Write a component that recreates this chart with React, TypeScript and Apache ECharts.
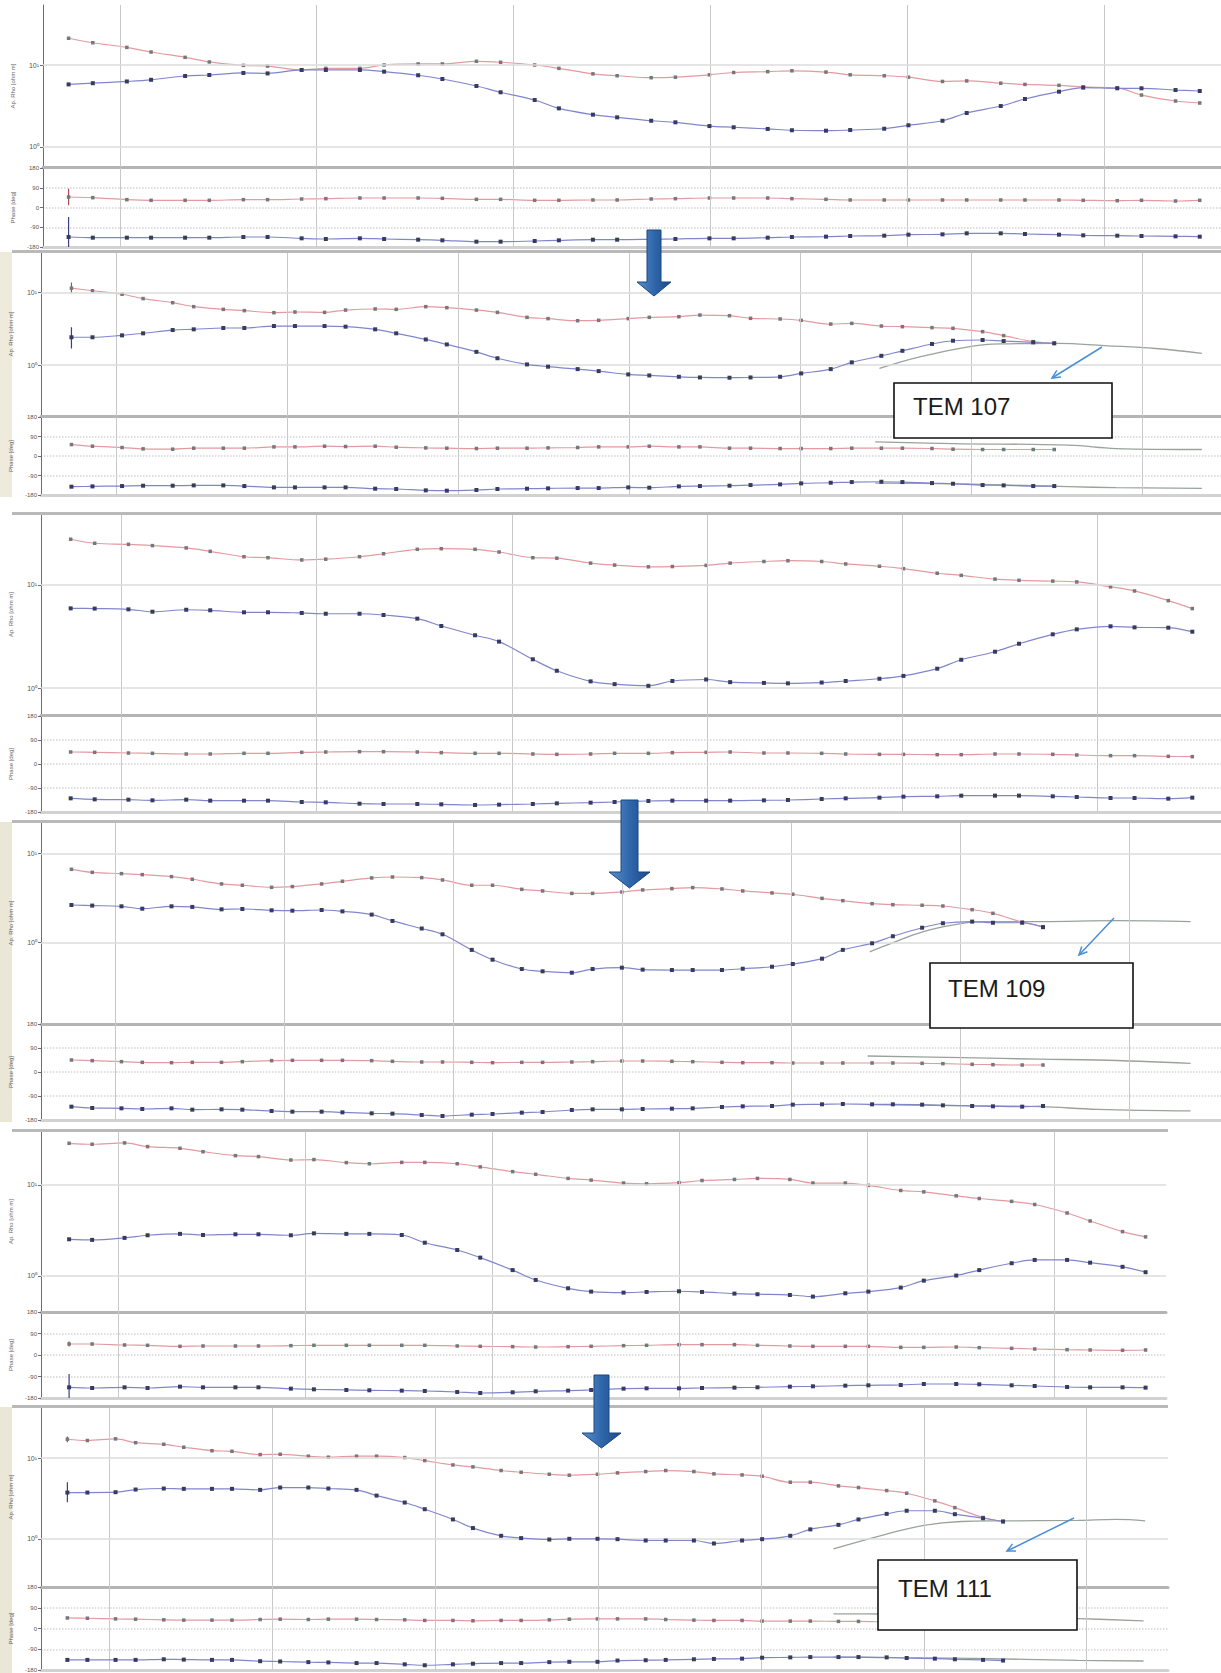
import React, { useEffect, useRef } from "react";
import * as echarts from "echarts";

// log10 of period for the 40 sounding frequencies (shared by all stations)
const logPeriod = [
  -3.26, -3.137, -2.964, -2.841, -2.668, -2.545, -2.372, -2.249, -2.076, -1.953,
  -1.78, -1.657, -1.484, -1.361, -1.188, -1.065, -0.892, -0.769, -0.596, -0.473,
  -0.3, -0.177, -0.004, 0.119, 0.292, 0.415, 0.588, 0.711, 0.884, 1.007,
  1.18, 1.303, 1.476, 1.599, 1.772, 1.895, 2.068, 2.191, 2.364, 2.487,
];

const rhoTicks = [1, 10];
const rhoTickLabels = ["10⁰", "10¹"];
const phaseTickLabels = ["-180", "-90", "0", "90", "180"];

// ---------- Station 107 : before ----------
const rhoXY107Before = [21.2, 18.7, 16.4, 14.4, 12.4, 10.9, 9.9, 9.7, 8.7, 9.1, 9.1, 10.0, 10.3, 10.3, 11.1, 10.8, 10.0, 9.1, 7.8, 7.4, 7.0, 7.1, 7.6, 8.1, 8.3, 8.5, 8.2, 7.6, 7.4, 7.1, 6.3, 6.4, 6.0, 5.8, 5.65, 5.4, 5.25, 4.3, 3.64, 3.44];
const rhoYX107Before = [5.8, 6.0, 6.3, 6.6, 7.35, 7.55, 8.0, 7.9, 8.7, 8.7, 8.7, 8.3, 7.5, 6.75, 5.55, 4.65, 3.74, 2.96, 2.48, 2.3, 2.09, 2.0, 1.8, 1.74, 1.66, 1.6, 1.58, 1.61, 1.67, 1.84, 2.09, 2.6, 3.16, 3.85, 4.73, 5.3, 5.2, 5.2, 4.95, 4.82];
const phaseXY107Before = [47.8, 44.8, 35.7, 32.7, 32.7, 32.7, 35.7, 35.7, 38.7, 40.2, 43.3, 43.3, 43.3, 41.8, 37.2, 37.2, 32.7, 32.7, 34.2, 34.2, 38.7, 40.2, 43.3, 43.3, 43.3, 40.2, 37.2, 34.2, 34.2, 34.2, 34.2, 34.2, 34.2, 34.2, 34.2, 32.7, 31.1, 32.7, 29.6, 32.7];
const phaseYX107Before = [-134.4, -137.5, -137.5, -137.5, -137.5, -137.5, -134.4, -134.4, -140.5, -143.5, -140.5, -143.5, -146.6, -149.6, -155.7, -155.7, -152.7, -149.6, -146.6, -146.6, -145.1, -143.5, -140.5, -140.5, -137.5, -134.4, -132.9, -129.9, -128.4, -123.8, -122.3, -117.7, -117.7, -120.8, -123.8, -126.8, -128.4, -129.9, -131.4, -132.9];

// ---------- Station 107 : after (TEM corrected) ----------
const rhoXY107After = [11.4, 10.5, 9.4, 8.2, 7.2, 6.35, 5.83, 5.6, 5.25, 5.36, 5.3, 5.7, 5.9, 5.83, 6.35, 6.15, 5.7, 5.3, 4.53, 4.35, 4.07, 4.12, 4.35, 4.53, 4.62, 4.87, 4.77, 4.39, 4.3, 4.12, 3.66, 3.74, 3.44, 3.37, 3.27, 3.2, 2.88, 2.54, 2.1, 1.99];
const rhoYX107After = [2.41, 2.41, 2.56, 2.73, 3.03, 3.1, 3.23, 3.23, 3.44, 3.44, 3.44, 3.37, 3.1, 2.73, 2.25, 1.92, 1.52, 1.24, 1.02, 0.95, 0.88, 0.826, 0.744, 0.72, 0.69, 0.676, 0.67, 0.676, 0.69, 0.768, 0.88, 1.09, 1.34, 1.57, 1.95, 2.16, 2.21, 2.14, 2.05, 1.99];
const phaseXY107After = [52.8, 45.2, 39.1, 33, 31.4, 36, 36, 36, 42.1, 42.1, 45.2, 43.7, 45.2, 40.6, 37.5, 36, 34.5, 36, 36, 37.5, 39.1, 42.1, 42.1, 45.2, 42.1, 42.1, 36, 36, 34.5, 34.5, 34.5, 36, 36, 36, 34.5, 31.4, 29.9, 29.9, 29.9, 29.9];
const phaseYX107After = [-141.7, -140.2, -138.7, -137.1, -137.1, -135.6, -135.6, -138.7, -144.8, -144.8, -144.8, -144.8, -150.9, -152.4, -158.6, -160.1, -157.0, -152.4, -150.9, -149.4, -147.9, -147.9, -144.8, -146.3, -140.2, -138.7, -137.1, -134.1, -131, -126.4, -123.4, -120.3, -118.8, -120.3, -124.9, -128, -134.1, -135.6, -138.7, -138.7];
const tem107Period = [1.465, 1.7, 2.01, 2.17, 2.51, 2.78, 3.08, 3.35];
const tem107Rho = [0.9, 1.3, 1.82, 1.95, 1.99, 1.85, 1.69, 1.45];
const tem107PhasePeriod = [1.44, 1.894, 2.575, 2.85, 3.35];
const tem107PhaseXY = [65, 57.4, 49.8, 34.5, 30];
const tem107PhaseYX = [-125, -128, -141.7, -146, -149.4];

// ---------- Station 109 : before ----------
const rhoXY109Before = [27.8, 25.4, 24.8, 24.1, 22.9, 21.2, 18.8, 18.4, 17.5, 17.8, 18.8, 20.1, 22.2, 22.5, 22.2, 20.9, 18.4, 18.2, 16.3, 15.6, 15.0, 15.1, 15.5, 16.3, 16.9, 17.2, 16.9, 16.0, 15.2, 14.4, 13.0, 12.4, 11.4, 11.1, 10.9, 10.7, 9.6, 8.75, 7.05, 5.9];
const rhoYX109Before = [5.93, 5.9, 5.8, 5.5, 5.75, 5.68, 5.43, 5.43, 5.35, 5.26, 5.26, 5.11, 4.71, 4.0, 3.25, 2.82, 1.9, 1.47, 1.16, 1.09, 1.05, 1.17, 1.21, 1.14, 1.12, 1.11, 1.13, 1.17, 1.23, 1.31, 1.54, 1.88, 2.25, 2.69, 3.32, 3.71, 3.97, 3.88, 3.85, 3.52];
const phaseXY109Before = [45, 43.75, 41.25, 40, 37.5, 37.5, 40, 40, 43.75, 45, 46.25, 46.25, 45, 42.5, 40, 40, 37.5, 36.25, 37.5, 40, 40, 42.5, 43.75, 45, 41.25, 41.25, 40, 37.5, 36.25, 36.25, 35, 35, 37.5, 37.5, 36.25, 33.75, 31.25, 31.25, 28.75, 27.5];
const phaseYX109Before = [-128.75, -132.5, -133.75, -136.25, -133.75, -137.5, -137.5, -137.5, -142.5, -143.75, -148.75, -150, -150, -151.25, -153.75, -152.5, -150, -147.5, -145, -142.5, -138.75, -137.5, -137.5, -137.5, -136.25, -135, -131.25, -128.75, -126.25, -122.5, -121.25, -118.75, -118.75, -118.75, -121.25, -123.75, -127.5, -127.5, -130, -126.25];

// ---------- Station 109 : after ----------
const rhoXY109After = [6.62, 6.12, 5.92, 5.77, 5.48, 5.12, 4.54, 4.39, 4.16, 4.24, 4.54, 4.86, 5.3, 5.43, 5.34, 5.03, 4.39, 4.39, 3.95, 3.79, 3.56, 3.56, 3.69, 3.89, 4.02, 4.13, 3.99, 3.79, 3.6, 3.48, 3.13, 2.95, 2.73, 2.66, 2.62, 2.57, 2.34, 2.13, 1.7, 1.51];
const rhoYX109After = [2.64, 2.6, 2.55, 2.4, 2.55, 2.51, 2.36, 2.38, 2.3, 2.28, 2.32, 2.24, 2.06, 1.75, 1.44, 1.24, 0.83, 0.645, 0.507, 0.478, 0.461, 0.507, 0.525, 0.499, 0.494, 0.494, 0.494, 0.511, 0.538, 0.577, 0.662, 0.83, 0.984, 1.18, 1.47, 1.65, 1.72, 1.67, 1.67, 1.49];
const phaseXY109After = [45, 42.5, 38.75, 36.25, 35, 36.25, 36.25, 38.75, 42.5, 43.75, 43.75, 43.75, 42.5, 40, 37.5, 37.5, 36.25, 35, 36.25, 36.25, 37.5, 38.75, 41.25, 41.25, 40, 38.75, 36.25, 35, 35, 33.75, 33.75, 33.75, 33.75, 33.75, 32.5, 31.25, 28.75, 27.5, 26.25, 26.25];
const phaseYX109After = [-130, -135, -136.25, -138.75, -136.25, -141.25, -140, -141.25, -146.25, -148.75, -148.75, -151.25, -155, -156.25, -161.25, -165, -160, -157.5, -152.5, -150, -142.5, -140, -140, -138.75, -137.5, -136.25, -131.25, -128.75, -127.5, -122.5, -121.25, -120, -121.25, -121.25, -122.5, -125, -127.5, -128.75, -130, -127.5];
const tem109Period = [1.462, 1.6, 1.78, 1.96, 2.12, 2.47, 2.92, 3.36];
const tem109Rho = [0.79, 1.0, 1.33, 1.58, 1.72, 1.72, 1.76, 1.72];
const tem109PhasePeriod = [1.45, 2.01, 2.47, 2.81, 3.36];
const tem109PhaseXY = [60, 53.75, 48, 45, 32.5];
const tem109PhaseYX = [-122, -126, -130, -140, -146];

// ---------- Station 111 : before ----------
const rhoXY111Before = [28.7, 28.0, 29.0, 26.4, 25.3, 23.2, 21.0, 20.5, 18.8, 19.0, 17.6, 17.1, 17.7, 17.7, 17.1, 15.8, 14.0, 13.1, 11.8, 11.3, 10.5, 10.3, 10.6, 11.2, 11.5, 11.8, 11.5, 10.5, 10.5, 9.9, 8.7, 8.4, 7.6, 7.1, 6.6, 6.1, 4.92, 4.02, 3.07, 2.69];
const rhoYX111Before = [2.53, 2.49, 2.62, 2.8, 2.9, 2.82, 2.87, 2.87, 2.8, 2.94, 2.9, 2.9, 2.82, 2.32, 1.93, 1.59, 1.16, 0.904, 0.732, 0.673, 0.656, 0.667, 0.679, 0.667, 0.64, 0.63, 0.618, 0.593, 0.645, 0.673, 0.745, 0.889, 1.01, 1.16, 1.38, 1.5, 1.5, 1.4, 1.26, 1.1];
const phaseXY111Before = [46, 46, 41.9, 40.5, 36.3, 37.7, 37.7, 37.7, 39.1, 40.5, 40.5, 40.5, 40.5, 40.5, 37.7, 36.3, 34.9, 33.5, 34.9, 36.3, 39.1, 40.5, 43.3, 43.3, 43.3, 40.5, 37.7, 36.3, 36.3, 36.3, 32.1, 32.1, 33.5, 30.7, 27.9, 25.2, 22.4, 21, 19.6, 21];
const phaseYX111Before = [-135.3, -138.1, -135.3, -138.1, -132.5, -135.3, -135.3, -135.3, -140.9, -143.7, -146.4, -147.8, -149.2, -150.6, -154.8, -159, -156.2, -152, -149.2, -146.4, -140.9, -139.5, -139.5, -138.1, -136.7, -135.3, -132.5, -131.1, -128.3, -126.9, -125.5, -121.3, -121.3, -122.7, -126.9, -129.7, -133.9, -135.3, -135.3, -136.7];

// ---------- Station 111 : after ----------
const rhoXY111After = [17.2, 16.6, 17.4, 15.6, 14.9, 13.7, 12.4, 12.2, 11.1, 11.2, 10.6, 10.3, 10.6, 10.6, 10.2, 9.36, 8.26, 7.81, 7.04, 6.7, 6.33, 6.16, 6.33, 6.58, 6.84, 7.04, 6.84, 6.4, 6.21, 5.98, 5.04, 5.04, 4.54, 4.33, 3.97, 3.68, 2.96, 2.44, 1.84, 1.64];
const rhoYX111After = [3.75, 3.75, 3.79, 4.09, 4.21, 4.17, 4.17, 4.17, 4.05, 4.33, 4.33, 4.21, 4.05, 3.44, 2.82, 2.33, 1.74, 1.36, 1.09, 1.02, 0.98, 1.0, 1.0, 0.99, 0.953, 0.953, 0.953, 0.875, 0.953, 0.99, 1.09, 1.31, 1.49, 1.74, 2.04, 2.23, 2.23, 2.02, 1.8, 1.64];
const phaseXY111After = [45.8, 44.5, 41.7, 40.4, 37.6, 36.3, 36.3, 36.3, 39, 40.4, 39, 40.4, 40.4, 39, 37.6, 34.9, 34.9, 33.5, 34.9, 34.9, 37.6, 40.4, 41.7, 41.7, 41.7, 39, 36.3, 34.9, 34.9, 32.1, 32.1, 32.1, 30.8, 30.8, 28, 26.7, 25.3, 25.3, 23.9, 22.6];
const phaseYX111After = [-136.2, -136.2, -136.2, -136.2, -133.5, -134.9, -136.2, -136.2, -141.8, -143.1, -145.8, -147.2, -149.9, -149.9, -155.4, -159.5, -155.4, -152.7, -149.9, -149.9, -145.8, -144.5, -144.5, -139, -137.6, -136.2, -133.5, -132.1, -130.8, -126.7, -125.3, -123.9, -123.9, -123.9, -125.3, -128, -130.8, -133.5, -136.2, -139];
const tem111Period = [1.445, 1.755, 1.993, 2.23, 2.47, 2.945, 3.18, 3.36];
const tem111Rho = [0.75, 1.12, 1.46, 1.64, 1.67, 1.69, 1.74, 1.67];
const tem111PhasePeriod = [1.445, 1.73, 2.3, 2.945, 3.35];
const tem111PhaseXY = [63.6, 63, 55, 43, 33.5];
const tem111PhaseYX = [-124, -126, -130, -138, -141];

// error bars on the first sounding point [low, high]
const errRedPhase107Before = [10, 86];
const errBluePhase107Before = [-180, -43];
const errRedRho107After = [9.7, 13.6];
const errBlueRho107After = [1.69, 3.3];
const errRedPhase111Before = [36, 57];
const errBluePhase111Before = [-180, -80];
const errRedRho111After = [15.8, 18.6];
const errBlueRho111After = [2.85, 5.04];

const RED_LINE = "#e39aa0";
const BLUE_LINE = "#8186cc";
const RED_MARK = "#77777c";
const BLUE_MARK = "#373c5e";
const GRAY_TEM = "#9aa39b";

type Panel = {
  kind: "rho" | "phase";
  left: number; top: number; width: number; height: number;
  xMin: number; xMax: number; yMin: number; yMax: number;
  vLines: number[];
  red: number[]; blue: number[];
  tem?: { x: number[]; y: number[] }[];
  errRed?: number[]; errBlue?: number[];
};

const decades6 = [-3, -2, -1, 0, 1, 2];
const decades7 = [-3, -2, -1, 0, 1, 2, 3];

const panels: Panel[] = [
  { kind: "rho", left: 43, top: 5, width: 1178, height: 162, xMin: -3.39, xMax: 2.595, yMin: -0.244, yMax: 1.732, vLines: decades6, red: rhoXY107Before, blue: rhoYX107Before },
  { kind: "phase", left: 43, top: 168, width: 1178, height: 79, xMin: -3.39, xMax: 2.595, yMin: -180, yMax: 180, vLines: decades6, red: phaseXY107Before, blue: phaseYX107Before, errRed: errRedPhase107Before, errBlue: errBluePhase107Before },
  { kind: "rho", left: 39, top: 252, width: 1182, height: 164, xMin: -3.438, xMax: 3.462, yMin: -0.7, yMax: 1.554, vLines: decades7, red: rhoXY107After, blue: rhoYX107After, tem: [{ x: tem107Period, y: tem107Rho }], errRed: errRedRho107After, errBlue: errBlueRho107After },
  { kind: "phase", left: 39, top: 417, width: 1182, height: 78, xMin: -3.438, xMax: 3.462, yMin: -180, yMax: 180, vLines: decades7, red: phaseXY107After, blue: phaseYX107After, tem: [{ x: tem107PhasePeriod, y: tem107PhaseXY }, { x: tem107PhasePeriod, y: tem107PhaseYX }] },
  { kind: "rho", left: 33, top: 514, width: 1188, height: 201, xMin: -3.412, xMax: 2.634, yMin: -0.262, yMax: 1.689, vLines: decades6, red: rhoXY109Before, blue: rhoYX109Before },
  { kind: "phase", left: 33, top: 716, width: 1188, height: 96, xMin: -3.412, xMax: 2.634, yMin: -180, yMax: 180, vLines: decades6, red: phaseXY109Before, blue: phaseYX109Before },
  { kind: "rho", left: 31, top: 822, width: 1190, height: 202, xMin: -3.44, xMax: 3.54, yMin: -0.91, yMax: 1.35, vLines: decades7, red: rhoXY109After, blue: rhoYX109After, tem: [{ x: tem109Period, y: tem109Rho }] },
  { kind: "phase", left: 31, top: 1024, width: 1190, height: 96, xMin: -3.44, xMax: 3.54, yMin: -180, yMax: 180, vLines: decades7, red: phaseXY109After, blue: phaseYX109After, tem: [{ x: tem109PhasePeriod, y: tem109PhaseXY }, { x: tem109PhasePeriod, y: tem109PhaseYX }] },
  { kind: "rho", left: 37, top: 1131, width: 1129, height: 181, xMin: -3.41, xMax: 2.596, yMin: -0.396, yMax: 1.593, vLines: decades6, red: rhoXY111Before, blue: rhoYX111Before },
  { kind: "phase", left: 37, top: 1312, width: 1129, height: 86, xMin: -3.41, xMax: 2.596, yMin: -180, yMax: 180, vLines: decades6, red: phaseXY111Before, blue: phaseYX111Before, errRed: errRedPhase111Before, errBlue: errBluePhase111Before },
  { kind: "rho", left: 36, top: 1407, width: 1132, height: 180, xMin: -3.422, xMax: 3.5, yMin: -0.598, yMax: 1.636, vLines: decades7, red: rhoXY111After, blue: rhoYX111After, tem: [{ x: tem111Period, y: tem111Rho }], errRed: errRedRho111After, errBlue: errBlueRho111After },
  { kind: "phase", left: 36, top: 1587, width: 1132, height: 88, xMin: -3.422, xMax: 3.5, yMin: -180, yMax: 180, vLines: decades7, red: phaseXY111After, blue: phaseYX111After, tem: [{ x: tem111PhasePeriod, y: tem111PhaseXY }, { x: tem111PhasePeriod, y: tem111PhaseYX }] },
];

const near = (a: number, b: number) => Math.abs(a - b) < 1e-6 * Math.max(1, Math.abs(b));

function arrowHead(x1: number, y1: number, x2: number, y2: number, len = 9, ang = 0.45) {
  const a = Math.atan2(y2 - y1, x2 - x1);
  return [
    [x2 - len * Math.cos(a - ang), y2 - len * Math.sin(a - ang)],
    [x2, y2],
    [x2 - len * Math.cos(a + ang), y2 - len * Math.sin(a + ang)],
  ];
}

function bigArrow(cx: number, top: number, shaftW: number, headY: number, headW: number, tip: number) {
  const s = shaftW / 2, h = headW / 2;
  return {
    type: "polygon",
    z: 100,
    shape: { points: [[cx - s, top], [cx + s, top], [cx + s, headY], [cx + h, headY], [cx, tip], [cx - h, headY], [cx - s, headY]] },
    style: {
      fill: new echarts.graphic.LinearGradient(0, 0, 1, 0, [
        { offset: 0, color: "#5a8fcf" },
        { offset: 0.5, color: "#2f67ab" },
        { offset: 1, color: "#1c4a86" },
      ]),
      stroke: "#1b4780",
      lineWidth: 1,
    },
  };
}

function temBox(x: number, y: number, w: number, h: number, label: string, tx: number, ty: number) {
  return [
    { type: "rect", z: 100, shape: { x, y, width: w, height: h }, style: { fill: "#ffffff", stroke: "#111111", lineWidth: 1.6 } },
    { type: "text", z: 101, x: tx, y: ty, style: { text: label, fontSize: 24, fontFamily: "Liberation Sans, Arial, sans-serif", fill: "#1b1b1b", verticalAlign: "middle" } },
  ];
}

function thinArrow(x1: number, y1: number, x2: number, y2: number) {
  return [
    { type: "line", z: 100, shape: { x1, y1, x2, y2 }, style: { stroke: "#4b8fd6", lineWidth: 1.5 } },
    { type: "polyline", z: 100, shape: { points: arrowHead(x1, y1, x2, y2) }, style: { stroke: "#4b8fd6", lineWidth: 1.5, fill: null } },
  ];
}

function buildOption() {
  const grid: any[] = [];
  const xAxis: any[] = [];
  const yAxis: any[] = [];
  const series: any[] = [];

  panels.forEach((p, i) => {
    grid.push({ left: p.left, top: p.top, width: p.width, height: p.height, show: false, containLabel: false });
    xAxis.push({
      type: "value", gridIndex: i, min: p.xMin, max: p.xMax, position: "bottom",
      axisLine: { show: true, onZero: false, lineStyle: { color: p.kind === "rho" ? "#b4b4b4" : "#d2d2d2", width: 3 } },
      axisTick: { show: false }, axisLabel: { show: false }, splitLine: { show: false },
    });
    const yCommon = {
      gridIndex: i, position: "left", nameLocation: "middle", nameGap: 27, nameRotate: 90,
      nameTextStyle: { fontSize: 6, color: "#666", fontFamily: "Liberation Sans" },
      axisLine: { show: true, onZero: false, lineStyle: { color: "#6d6d6d", width: 1 } },
      axisTick: { show: true, length: 3, lineStyle: { color: "#6d6d6d" } },
    };
    if (p.kind === "rho") {
      yAxis.push({
        ...yCommon,
        type: "log", logBase: 10, min: Math.pow(10, p.yMin), max: Math.pow(10, p.yMax),
        name: "Ap. Rho [ohm m]",
        axisLabel: {
          fontSize: 7, color: "#555", margin: 4, fontFamily: "Liberation Sans", showMinLabel: false, showMaxLabel: false,
          formatter: (v: number) => {
            const k = rhoTicks.findIndex((t) => near(v, t));
            return k >= 0 ? rhoTickLabels[k] : "";
          },
        },
        splitLine: { show: false },
      });
    } else {
      yAxis.push({
        ...yCommon,
        type: "value", min: -180, max: 180, interval: 90,
        name: "Phase [deg]",
        axisLabel: {
          fontSize: 6, color: "#555", margin: 4, fontFamily: "Liberation Sans",
          formatter: (v: number) => phaseTickLabels[Math.round((v + 180) / 90)] ?? "",
        },
        splitLine: { show: true, lineStyle: { color: "#d4d4d4", type: "dotted", width: 1.5 } },
      });
    }

    const gridLines: any[] = p.vLines.map((v) => ({ xAxis: v, lineStyle: { color: "#c9c9c9", type: "solid", width: 1 } }));
    if (p.kind === "rho") {
      rhoTicks.forEach((t) => gridLines.push({ yAxis: t, lineStyle: { color: "#dcdcdc", type: "solid", width: 1.6 } }));
    }

    const common = {
      type: "line", xAxisIndex: i, yAxisIndex: i, smooth: 0.35, symbol: "rect",
      animation: false, silent: true, clip: true,
    };
    series.push({
      ...common, name: `xy-${i}`, z: 4,
      data: logPeriod.map((x, k) => [x, p.red[k]]),
      symbolSize: 3.5, lineStyle: { color: RED_LINE, width: 1.2 }, itemStyle: { color: RED_MARK },
      markLine: { silent: true, symbol: ["none", "none"], label: { show: false }, animation: false, data: gridLines },
    });
    series.push({
      ...common, name: `yx-${i}`, z: 5,
      data: logPeriod.map((x, k) => [x, p.blue[k]]),
      symbolSize: 4, lineStyle: { color: BLUE_LINE, width: 1.2 }, itemStyle: { color: BLUE_MARK },
    });
    (p.tem || []).forEach((c, j) => {
      series.push({
        type: "line", xAxisIndex: i, yAxisIndex: i, smooth: 0.4, showSymbol: false, symbol: "none", z: 3,
        name: `tem-${i}-${j}`, silent: true,
        data: c.x.map((x, k) => [x, c.y[k]]),
        lineStyle: { color: GRAY_TEM, width: 1.3 },
      });
    });
    if (p.errRed) {
      series.push({ type: "line", xAxisIndex: i, yAxisIndex: i, symbol: "none", z: 4, silent: true, data: p.errRed.map((v) => [logPeriod[0], v]), lineStyle: { color: "#b24a55", width: 1.2 } });
    }
    if (p.errBlue) {
      series.push({ type: "line", xAxisIndex: i, yAxisIndex: i, symbol: "none", z: 4, silent: true, data: p.errBlue.map((v) => [logPeriod[0], v]), lineStyle: { color: "#3b3f8a", width: 1.2 } });
    }
  });

  const graphics: any[] = [
    // beige side strips of the corrected panels
    { type: "rect", z: 0, shape: { x: 0, y: 252, width: 12, height: 245 }, style: { fill: "#eeebdd" } },
    { type: "rect", z: 0, shape: { x: 0, y: 822, width: 12, height: 300 }, style: { fill: "#eae7d6" } },
    { type: "rect", z: 0, shape: { x: 0, y: 1407, width: 12, height: 266 }, style: { fill: "#eae7d6" } },
    // panel top borders
    { type: "rect", z: 50, shape: { x: 12, y: 250, width: 1209, height: 3 }, style: { fill: "#b9b9b9" } },
    { type: "rect", z: 50, shape: { x: 12, y: 512, width: 1209, height: 3 }, style: { fill: "#b9b9b9" } },
    { type: "rect", z: 50, shape: { x: 12, y: 820, width: 1209, height: 3 }, style: { fill: "#b9b9b9" } },
    { type: "rect", z: 50, shape: { x: 12, y: 1129, width: 1156, height: 3 }, style: { fill: "#b9b9b9" } },
    { type: "rect", z: 50, shape: { x: 12, y: 1405, width: 1156, height: 3 }, style: { fill: "#b9b9b9" } },
    // big arrows
    bigArrow(654, 230, 14, 282, 34, 296),
    bigArrow(629.5, 800, 17, 872, 41, 888),
    bigArrow(601.5, 1375, 15, 1433, 39, 1448),
    ...thinArrow(1102, 347, 1052, 378),
    ...thinArrow(1114, 918, 1079, 955),
    ...thinArrow(1074, 1518, 1007, 1551),
    ...temBox(894, 383, 218, 55, "TEM 107", 913, 406),
    ...temBox(930, 963, 203, 65, "TEM 109", 948, 988),
    ...temBox(878, 1560, 199, 70, "TEM 111", 898, 1588),
  ];

  return {
    animation: false,
    backgroundColor: "#ffffff",
    textStyle: { fontFamily: "Liberation Sans, Arial, sans-serif" },
    grid, xAxis, yAxis, series,
    graphic: { elements: graphics },
  };
}

export default function App() {
  const ref = useRef<HTMLDivElement>(null);
  useEffect(() => {
    if (!ref.current) return;
    const chart = echarts.init(ref.current, null, { renderer: "svg" });
    chart.setOption(buildOption() as any);
    return () => chart.dispose();
  }, []);
  return (
    <div
      ref={ref}
      style={{ position: "absolute", left: 0, top: 0, width: 1221, height: 1673, background: "#fff" }}
    />
  );
}
